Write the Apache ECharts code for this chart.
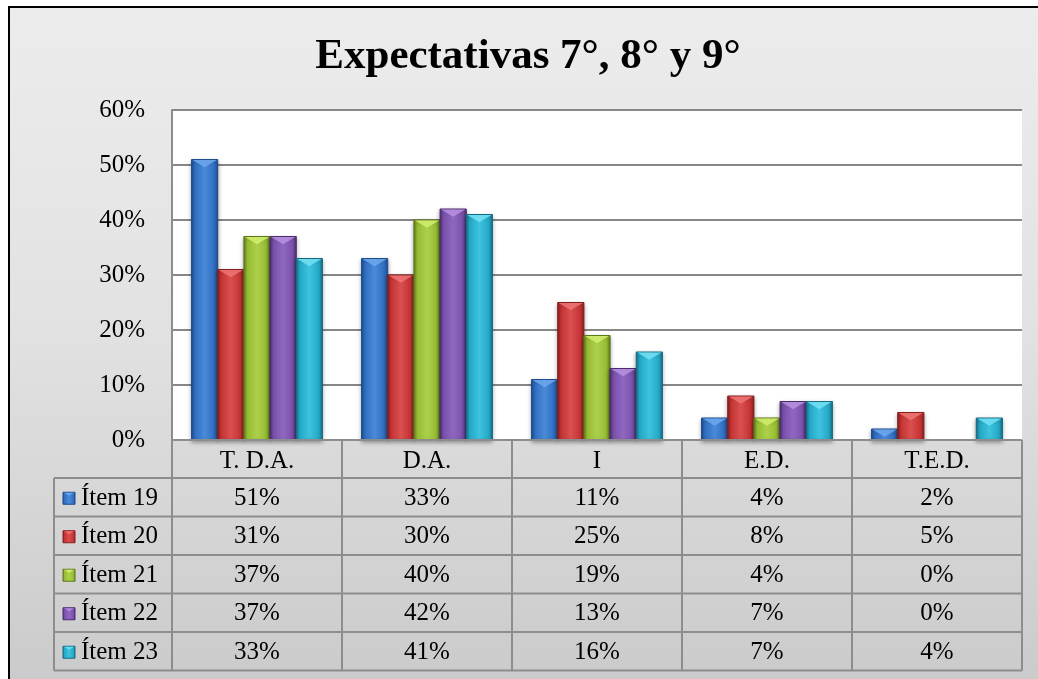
<!DOCTYPE html>
<html>
<head>
<meta charset="utf-8">
<script src="https://cdn.jsdelivr.net/npm/echarts@6/dist/echarts.min.js"></script>
<style>
  html, body { margin: 0; padding: 0; background: #ffffff; }
  #frame {
    position: absolute; left: 8px; top: 6px; width: 1060px; height: 700px;
    border: 2px solid #000;
    background: linear-gradient(to bottom, #ececec 0%, #e2e2e2 45%, #c9c9c9 100%);
  }
  #chart { position: absolute; left: 0; top: 0; width: 1038px; height: 679px; }
</style>
</head>
<body>
<div id="frame"></div>
<div id="chart"></div>
<script>
// Categories (columns of the data table)
const categories = ['T. D.A.', 'D.A.', 'I', 'E.D.', 'T.E.D.'];
// Series names shown in the table's legend column
const seriesNames = ['Ítem 19', 'Ítem 20', 'Ítem 21', 'Ítem 22', 'Ítem 23'];
// Percent values per series
const item19 = [51, 33, 11, 4, 2];
const item20 = [31, 30, 25, 8, 5];
const item21 = [37, 40, 19, 4, 0];
const item22 = [37, 42, 13, 7, 0];
const item23 = [33, 41, 16, 7, 4];
const seriesValues = [item19, item20, item21, item22, item23];
// Value axis ticks
const yMin = 0, yMax = 60, yStep = 10;

// Bevelled bar palettes: [edge, body, highlight, bevel]
const palettes = [
  ['#1d4c8c', '#2f6ec2', '#4a8ad8', '#6fa9ee'],
  ['#861e1e', '#c53434', '#da4f4f', '#f07474'],
  ['#5d781b', '#96bc33', '#acd04a', '#d4ee70'],
  ['#4a2d6e', '#7a50ab', '#8f67c0', '#b892e2'],
  ['#176b80', '#23a8c7', '#3ec2de', '#74e2f6']
];

const FONT = '"Liberation Serif", "Times New Roman", serif';
const TEXT_SIZE = 25;
const GRID = { left: 172, top: 110, width: 850, height: 330 };
const BAR_GROUP = 0.77;

function hGradient(p) {
  return new echarts.graphic.LinearGradient(0, 0, 1, 0, [
    { offset: 0, color: p[0] },
    { offset: 0.14, color: p[1] },
    { offset: 0.5, color: p[2] },
    { offset: 0.86, color: p[1] },
    { offset: 1, color: p[0] }
  ]);
}

function bevelShapes(x0, y0, w, h, p, z) {
  const b = Math.min(w * 0.3, h);
  return [
    { type: 'rect', shape: { x: x0, y: y0, width: w, height: h },
      style: { fill: hGradient(p), stroke: p[0], lineWidth: 1,
               shadowBlur: 4, shadowColor: 'rgba(0,0,0,0.35)', shadowOffsetY: 2 }, z2: z },
    { type: 'polygon', shape: { points: [[x0 + 1, y0 + 0.5], [x0 + w - 1, y0 + 0.5], [x0 + w / 2, y0 + b]] },
      style: { fill: p[3], opacity: 0.85 }, z2: z + 1 }
  ];
}

function makeRenderer(si) {
  return function (params, api) {
    const c = api.value(0);
    const v = api.value(1);
    const base = api.coord([c, 0]);
    const top = api.coord([c, v]);
    const band = api.size([1, 0])[0];
    const gw = band * BAR_GROUP;
    const w = gw / seriesValues.length;
    const x0 = base[0] - gw / 2 + si * w;
    const h = base[1] - top[1];
    if (h <= 0.5) return null;
    return { type: 'group', children: bevelShapes(x0, top[1], w, h, palettes[si], 10) };
  };
}

const series = seriesValues.map((vals, si) => ({
  type: 'custom',
  name: seriesNames[si],
  renderItem: makeRenderer(si),
  data: vals.map((v, ci) => [ci, v]),
  encode: { x: 0, y: 1 },
  z: 5
}));

// Data table drawn under the plot area
function buildTable() {
  const els = [];
  const colW = GRID.width / categories.length;
  const x0 = GRID.left, x1 = GRID.left + GRID.width;
  const headTop = GRID.top + GRID.height;
  const headH = 38;
  const rowH = 38.5;
  const legendLeft = 54;
  const lineStyle = { stroke: '#8d8d8d', lineWidth: 2 };
  const nRows = seriesNames.length;
  const bottom = headTop + headH + rowH * nRows;
  const font = TEXT_SIZE + 'px ' + FONT;

  // horizontal rules
  els.push({ type: 'line', shape: { x1: x0, y1: headTop, x2: x1, y2: headTop }, style: lineStyle, z: 20 });
  for (let r = 0; r <= nRows; r++) {
    const y = headTop + headH + r * rowH;
    els.push({ type: 'line', shape: { x1: legendLeft, y1: y, x2: x1, y2: y }, style: lineStyle, z: 20 });
  }
  // vertical rules
  els.push({ type: 'line', shape: { x1: legendLeft, y1: headTop + headH, x2: legendLeft, y2: bottom }, style: lineStyle, z: 20 });
  for (let c = 0; c <= categories.length; c++) {
    const x = x0 + c * colW;
    els.push({ type: 'line', shape: { x1: x, y1: headTop, x2: x, y2: bottom }, style: lineStyle, z: 20 });
  }
  // header labels
  categories.forEach((cat, c) => {
    els.push({ type: 'text', x: x0 + (c + 0.5) * colW, y: headTop + headH / 2 + 2,
      style: { text: cat, font: font, fill: '#000', textAlign: 'center', textVerticalAlign: 'middle' }, z: 21 });
  });
  // rows
  seriesNames.forEach((name, r) => {
    const cy = headTop + headH + (r + 0.5) * rowH + 1;
    const p = palettes[r];
    const ks = 12;
    els.push({ type: 'group', children: bevelShapes(63, cy - ks / 2, ks, ks, p, 0).map(e => {
      e.style.shadowBlur = 0; e.style.shadowOffsetY = 0; return e; }), z: 21 });
    els.push({ type: 'text', x: 81, y: cy,
      style: { text: name, font: font, fill: '#000', textAlign: 'left', textVerticalAlign: 'middle' }, z: 21 });
    seriesValues[r].forEach((v, c) => {
      els.push({ type: 'text', x: x0 + (c + 0.5) * colW, y: cy,
        style: { text: v + '%', font: font, fill: '#000', textAlign: 'center', textVerticalAlign: 'middle' }, z: 21 });
    });
  });
  // title
  els.push({ type: 'text', x: 528, y: 57,
    style: { text: 'Expectativas 7°, 8° y 9°', font: 'bold 43px ' + FONT, fill: '#000',
             textAlign: 'center', textVerticalAlign: 'middle' }, z: 21 });
  return els;
}

const chart = echarts.init(document.getElementById('chart'), null, { renderer: 'canvas' });
chart.setOption({
  animation: false,
  backgroundColor: 'transparent',
  grid: { left: GRID.left, top: GRID.top, width: GRID.width, height: GRID.height,
          show: true, backgroundColor: '#ffffff', borderWidth: 0 },
  xAxis: {
    type: 'category', data: categories,
    axisLine: { show: false }, axisTick: { show: false }, axisLabel: { show: false },
    splitLine: { show: false }
  },
  yAxis: {
    type: 'value', min: yMin, max: yMax, interval: yStep,
    axisLine: { show: true, lineStyle: { color: '#8d8d8d', width: 2 } },
    axisTick: { show: false },
    axisLabel: { formatter: '{value}%', fontFamily: FONT, fontSize: TEXT_SIZE, color: '#000', margin: 27 },
    splitLine: { lineStyle: { color: '#878787', width: 2 } }
  },
  series: series,
  graphic: buildTable()
});
</script>
</body>
</html>
